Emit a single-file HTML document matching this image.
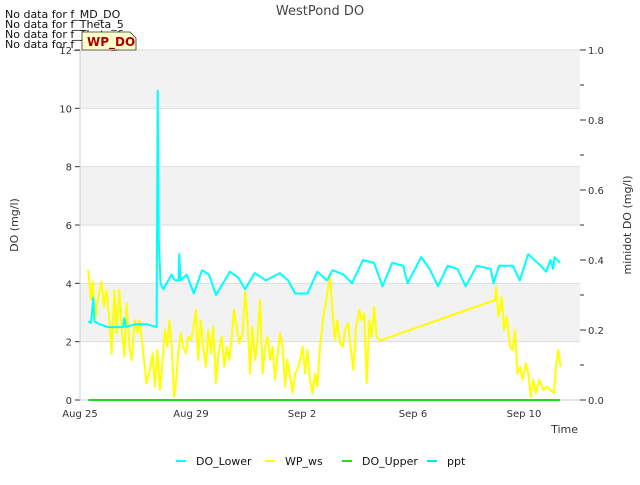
<!DOCTYPE html>
<html><head><meta charset="utf-8"><style>
body{margin:0;background:#fff;font-family:"Liberation Sans","DejaVu Sans",sans-serif;}
svg text{font-family:"DejaVu Sans","Liberation Sans",sans-serif;}
</style></head><body>
<svg id="chart" width="640" height="480" xmlns="http://www.w3.org/2000/svg">
<rect width="640" height="480" fill="#fff"/>
<g id="bands"></g><g id="grid"></g><g id="axes"></g><g id="series"></g>
<text x="320" y="15" text-anchor="middle" font-size="13" fill="#444">WestPond DO</text>
<text x="18" y="225" text-anchor="middle" font-size="11" fill="#333" transform="rotate(-90 18 225)">DO (mg/l)</text>
<text x="631" y="225" text-anchor="middle" font-size="11" fill="#333" transform="rotate(-90 631 225)">minidot DO (mg/l)</text>
<text x="578" y="433" text-anchor="end" font-size="11" fill="#333">Time</text>
<g font-size="11" fill="#111">
<text x="5" y="18">No data for f_MD_DO</text>
<text x="5" y="28">No data for f_Theta_5</text>
<text x="5" y="38">No data for f_Theta_6</text>
<text x="5" y="48">No data for f_Theta_7</text>
</g>
<g>
<path d="M82,32 H130 L136,38 V50 H82 Z" fill="#ffffcc" stroke="#333" stroke-width="0.8"/>
<text x="87" y="46" font-size="12" font-weight="bold" fill="#a00">WP_DO</text>
</g>
<g id="legend" font-size="11" fill="#111"></g>
</svg>
<script>
const leftTicks=[0,2,4,6,8,10,12];
const rightTicks=[0.0,0.2,0.4,0.6,0.8,1.0];
const xTickDays=[0,4,8,12,16];
const xTickLabels=["Aug 25","Aug 29","Sep 2","Sep 6","Sep 10"];
const doLowerDays=[0.30,0.40,0.48,0.52,0.7,1.0,1.55,1.6,1.65,2.0,2.4,2.76,2.8,2.84,2.9,3.0,3.3,3.42,3.55,3.58,3.62,3.85,4.1,4.4,4.65,4.9,5.4,5.7,5.95,6.3,6.7,7.2,7.5,7.75,8.2,8.55,8.9,9.1,9.5,9.8,10.2,10.6,10.9,11.25,11.65,11.8,12.3,12.6,12.9,13.25,13.6,13.9,14.3,14.8,14.9,15.1,15.6,15.85,16.15,16.6,16.8,16.95,17.05,17.1,17.3];
const doLowerVals=[2.7,2.65,3.5,2.7,2.6,2.5,2.5,2.8,2.5,2.6,2.6,2.5,10.6,5.5,4.0,3.8,4.3,4.1,4.1,5.0,4.1,4.3,3.65,4.45,4.3,3.6,4.4,4.2,3.8,4.35,4.1,4.35,4.1,3.65,3.65,4.4,4.1,4.45,4.3,4.0,4.8,4.7,3.9,4.7,4.6,4.0,4.9,4.5,3.9,4.6,4.5,3.9,4.6,4.5,4.0,4.6,4.6,4.1,5.0,4.6,4.4,4.8,4.5,4.9,4.7];
const wsDays=[0.30,0.40,0.46,0.54,0.66,0.78,0.86,0.96,1.06,1.14,1.24,1.32,1.42,1.50,1.60,1.68,1.78,1.86,1.98,2.07,2.14,2.22,2.32,2.40,2.52,2.62,2.70,2.79,2.88,2.98,3.06,3.15,3.22,3.30,3.39,3.46,3.54,3.63,3.72,3.82,3.90,4.00,4.08,4.18,4.26,4.35,4.44,4.54,4.62,4.72,4.80,4.90,4.99,5.11,5.20,5.29,5.38,5.47,5.55,5.65,5.74,5.86,5.95,6.03,6.13,6.21,6.31,6.39,6.49,6.58,6.67,6.76,6.85,6.94,7.03,7.11,7.21,7.30,7.39,7.47,7.57,7.66,7.75,7.83,7.93,8.02,8.11,8.19,8.29,8.38,8.47,8.55,8.65,8.77,8.95,9.01,9.11,9.19,9.27,9.37,9.47,9.55,9.67,9.75,9.85,9.95,10.07,10.15,10.24,10.33,10.43,10.51,10.60,10.69,10.79,10.87,14.96,14.99,15.08,15.20,15.28,15.38,15.50,15.59,15.68,15.76,15.86,15.95,16.07,16.16,16.24,16.34,16.43,16.55,16.70,16.82,16.96,17.08,17.15,17.24,17.32];
const wsVals=[4.46,3.43,4.06,2.74,3.54,4.06,3.20,3.77,2.74,1.60,3.77,2.29,3.77,2.40,1.49,3.31,1.83,1.37,2.74,2.29,2.74,2.17,1.26,0.57,1.03,1.60,0.46,1.71,0.34,1.37,2.40,1.83,2.74,1.94,0.11,0.57,1.60,2.29,1.83,1.60,2.17,2.06,2.40,3.09,1.37,2.74,1.83,1.14,2.40,1.60,2.51,0.57,1.60,2.17,1.14,1.83,1.37,2.17,3.09,2.51,1.94,2.29,3.71,2.86,0.91,2.51,1.37,2.06,3.43,0.91,1.83,2.17,1.37,1.83,0.69,1.49,2.29,1.83,0.46,1.37,0.80,0.23,0.91,1.03,1.37,1.83,0.91,1.71,0.69,0.23,0.91,0.46,1.83,2.86,3.89,4.23,2.86,2.06,2.74,1.94,1.83,2.40,2.63,1.83,1.03,2.51,3.09,2.74,2.97,0.57,2.74,2.17,3.20,2.17,2.06,2.06,3.43,3.89,2.86,3.54,2.40,2.86,1.83,1.71,2.40,0.91,1.14,0.69,1.26,0.91,0.11,0.69,0.23,0.69,0.34,0.46,0.34,0.23,1.14,1.71,1.14];
const doUpperDays=[0.3,17.3];
const doUpperVals=[0,0];
const legendNames=["DO_Lower","WP_ws","DO_Upper","ppt"];
const legendColors=["#00ffff","#ffff00","#22dd22","#00e5ff"];

const NS="http://www.w3.org/2000/svg";
const X0=80,X1=580,Y0=400,Y1=50;
const xs=d=>X0+d*27.75;
const ys=v=>Y0-(v/12)*(Y0-Y1);
const yr=v=>Y0-v*(Y0-Y1);
function mk(tag,attrs,parent){const e=document.createElementNS(NS,tag);for(const k in attrs)e.setAttribute(k,attrs[k]);parent.appendChild(e);return e;}
const bands=document.getElementById('bands'),grid=document.getElementById('grid'),axes=document.getElementById('axes'),ser=document.getElementById('series');
for(let i=0;i<leftTicks.length-1;i++){
  if(i%2===1){const r=mk('rect',{x:X0,y:ys(leftTicks[i+1]),width:X1-X0,height:ys(leftTicks[i])-ys(leftTicks[i+1]),fill:'#f2f2f2'},bands);
  
  }
}
leftTicks.forEach(t=>{
  const l=mk('line',{x1:X0,x2:X1,y1:ys(t),y2:ys(t),stroke:'#dedede','stroke-width':1},grid);
  
  
  const tk=mk('line',{x1:X0-5,x2:X0,y1:ys(t),y2:ys(t),stroke:'#333'},axes);
  
  
  const tx=mk('text',{x:X0-8,y:ys(t)+4,'text-anchor':'end','font-size':10,fill:'#333'},axes);
  tx.textContent=String(t);
  
  
});
for(let k=0;k<=10;k++){
  const v=k/10;
  const tk=mk('line',{x1:X1,x2:X1+(k%2===0?6:4),y1:yr(v),y2:yr(v),stroke:'#333'},axes);
  
  
}
rightTicks.forEach(t=>{
  const tx=mk('text',{x:X1+8,y:yr(t)+4,'font-size':10,fill:'#333'},axes);
  tx.textContent=t.toFixed(1);
  
  
});
xTickDays.forEach((d,i)=>{
  const tx=mk('text',{x:xs(d),y:Y0+17,'text-anchor':'middle','font-size':10,fill:'#333'},axes);
  tx.textContent=xTickLabels[i];
  
  
});
const la=mk('line',{x1:X0,x2:X0,y1:Y1,y2:Y0,stroke:'#ccc'},axes);


const ba=mk('line',{x1:X0,x2:X1,y1:Y0,y2:Y0,stroke:'#ccc'},axes);


function line(days,vals,color,name){
  const p=days.map((d,i)=>(i?'L':'M')+xs(d).toFixed(1)+','+ys(vals[i]).toFixed(1)).join(' ');
  const e=mk('path',{d:p,fill:'none',stroke:color,'stroke-width':2,'stroke-linejoin':'round'},ser);
  
  
}
line(doUpperDays,doUpperVals,'#22dd22','do-upper-line');
line(wsDays,wsVals,'#ffff00','wp-ws-line');
line(doLowerDays,doLowerVals,'#00ffff','do-lower-line');
const lg=document.getElementById('legend');
const lx=[176,265,342,427];
legendNames.forEach((n,i)=>{
  const s=mk('line',{x1:lx[i],x2:lx[i]+10,y1:461,y2:461,stroke:legendColors[i],'stroke-width':2},lg);
  
  
  const t=mk('text',{x:lx[i]+20,y:465},lg);
  t.textContent=n;
  
  
});
</script>
</body></html>
